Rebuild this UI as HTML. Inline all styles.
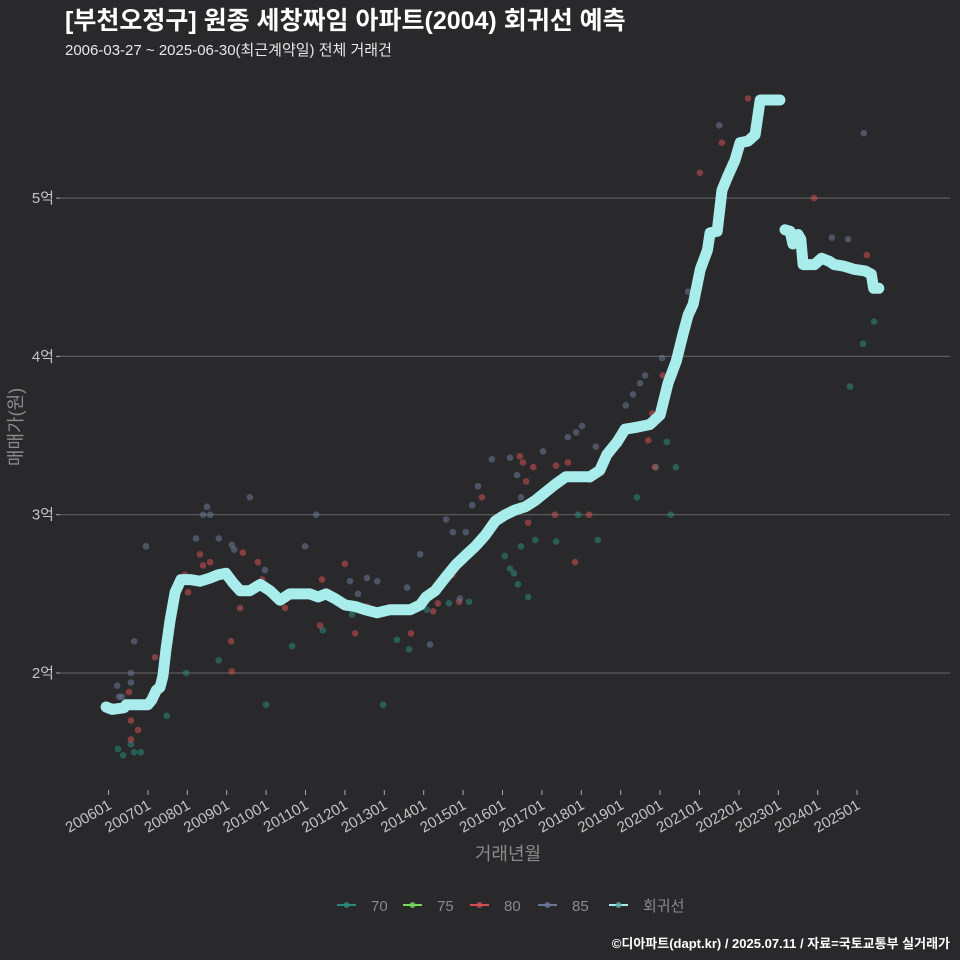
<!DOCTYPE html>
<html><head><meta charset="utf-8">
<style>
html,body{margin:0;padding:0;background:#29292b;}
svg{display:block;font-family:"Liberation Sans","Noto Sans CJK KR",sans-serif;}
</style></head>
<body>
<svg id="chart" width="960" height="960" viewBox="0 0 960 960" xmlns="http://www.w3.org/2000/svg">
<rect width="960" height="960" fill="#29292b"/>
<text x="65" y="29" font-size="25" font-weight="bold" fill="#ffffff">[부천오정구] 원종 세창짜임 아파트(2004) 회귀선 예측</text>
<text x="65" y="55" font-size="15" fill="#e8e8e8">2006-03-27 ~ 2025-06-30(최근계약일) 전체 거래건</text>
<g id="grid"></g>
<g id="dots"></g>
<g id="line"></g>
<g id="axes"></g>
<text x="508" y="860" font-size="18" fill="#8a8a8a" text-anchor="middle">거래년월</text>
<text transform="translate(22,427) rotate(-90)" font-size="18" fill="#8a8a8a" text-anchor="middle">매매가(원)</text>
<g id="legend"></g>
<text x="950" y="948" font-size="13" font-weight="bold" fill="#ffffff" text-anchor="end">©디아파트(dapt.kr) / 2025.07.11 / 자료=국토교통부 실거래가</text>
</svg>
<script>
const xTickYears=[2006,2007,2008,2009,2010,2011,2012,2013,2014,2015,2016,2017,2018,2019,2020,2021,2022,2023,2024,2025];
const xTickLabels=["200601","200701","200801","200901","201001","201101","201201","201301","201401","201501","201601","201701","201801","201901","202001","202101","202201","202301","202401","202501"];
const yTickValues=[2,3,4,5];
const yTickLabels=["2억","3억","4억","5억"];
const seriesNames=["70","75","80","85","회귀선"];
const seriesColors=["#2a8a7c","#7ad65a","#d05050","#6a7898","#a8ecec"];
const s70=[[2006.24,1.52],[2006.37,1.48],[2006.57,1.55],[2006.65,1.50],[2006.82,1.50],[2007.48,1.73],[2007.97,2.00],[2008.80,2.08],[2010.00,1.80],[2010.66,2.17],[2011.44,2.27],[2012.18,2.37],[2012.97,1.80],[2013.32,2.21],[2013.63,2.15],[2014.08,2.40],[2014.64,2.44],[2015.15,2.45],[2016.06,2.74],[2016.19,2.66],[2016.29,2.63],[2016.39,2.56],[2016.47,2.80],[2016.65,2.48],[2016.83,2.84],[2017.36,2.83],[2017.92,3.00],[2018.42,2.84],[2019.41,3.11],[2019.89,3.30],[2020.27,3.00],[2020.17,3.46],[2020.40,3.30],[2024.82,3.81],[2025.15,4.08],[2025.43,4.22]];
const s80=[[2006.52,1.88],[2006.57,1.58],[2006.75,1.64],[2006.57,1.70],[2007.18,2.10],[2007.94,2.62],[2008.02,2.51],[2008.32,2.75],[2008.40,2.68],[2008.58,2.70],[2009.11,2.20],[2009.13,2.01],[2009.34,2.41],[2009.41,2.76],[2009.79,2.70],[2009.90,2.59],[2010.48,2.41],[2011.37,2.30],[2011.42,2.59],[2012.00,2.69],[2012.26,2.25],[2012.56,2.42],[2013.68,2.25],[2014.24,2.39],[2014.36,2.44],[2014.72,2.62],[2014.90,2.45],[2015.48,3.11],[2016.44,3.37],[2016.52,3.33],[2016.60,3.21],[2016.65,2.95],[2016.78,3.30],[2017.33,3.00],[2017.36,3.31],[2017.66,3.33],[2017.84,2.70],[2017.92,3.24],[2018.20,3.00],[2018.73,3.38],[2019.70,3.47],[2019.80,3.64],[2019.87,3.30],[2020.07,3.88],[2021.01,5.16],[2021.57,5.35],[2022.23,5.63],[2023.91,5.00],[2025.25,4.64]];
const s85=[[2006.22,1.92],[2006.27,1.85],[2006.34,1.85],[2006.57,2.00],[2006.57,1.94],[2006.65,2.20],[2006.95,2.80],[2008.40,3.00],[2008.50,3.05],[2008.58,3.00],[2008.22,2.85],[2008.80,2.85],[2009.19,2.78],[2009.13,2.81],[2009.59,3.11],[2009.97,2.65],[2010.99,2.80],[2011.27,3.00],[2012.13,2.58],[2012.56,2.60],[2012.82,2.58],[2012.33,2.50],[2013.58,2.54],[2013.91,2.75],[2014.16,2.18],[2014.57,2.97],[2014.74,2.89],[2014.92,2.47],[2015.07,2.89],[2015.23,3.06],[2015.38,3.18],[2015.73,3.35],[2016.19,3.36],[2016.37,3.25],[2016.47,3.11],[2017.03,3.40],[2017.66,3.49],[2017.87,3.52],[2018.02,3.56],[2018.22,3.22],[2018.37,3.43],[2019.13,3.69],[2019.31,3.76],[2019.49,3.83],[2019.62,3.88],[2019.80,3.57],[2020.05,3.99],[2020.71,4.41],[2021.50,5.46],[2025.17,5.41],[2024.36,4.75],[2024.77,4.74]];
const trendA=[[2005.94,1.785],[2006.09,1.77],[2006.39,1.78],[2006.45,1.80],[2007.0,1.80],[2007.10,1.83],[2007.21,1.89],[2007.31,1.91],[2007.38,1.98],[2007.46,2.15],[2007.56,2.33],[2007.69,2.51],[2007.84,2.59],[2008.07,2.59],[2008.32,2.58],[2008.58,2.60],[2008.78,2.62],[2008.98,2.63],[2009.16,2.57],[2009.34,2.52],[2009.59,2.52],[2009.85,2.56],[2010.10,2.52],[2010.35,2.46],[2010.60,2.50],[2011.11,2.50],[2011.32,2.48],[2011.52,2.50],[2011.75,2.47],[2012.00,2.43],[2012.26,2.42],[2012.51,2.40],[2012.82,2.38],[2013.15,2.40],[2013.66,2.40],[2013.91,2.43],[2014.06,2.48],[2014.29,2.52],[2014.54,2.60],[2014.80,2.68],[2015.05,2.74],[2015.31,2.80],[2015.56,2.87],[2015.82,2.96],[2016.07,3.00],[2016.32,3.03],[2016.58,3.05],[2016.83,3.09],[2017.08,3.14],[2017.33,3.19],[2017.61,3.24],[2017.89,3.24],[2018.22,3.24],[2018.47,3.28],[2018.65,3.38],[2018.91,3.46],[2019.11,3.54],[2019.36,3.55],[2019.74,3.57],[2020.00,3.63],[2020.20,3.83],[2020.41,3.97],[2020.58,4.14],[2020.71,4.26],[2020.84,4.33],[2021.02,4.55],[2021.20,4.67],[2021.27,4.78],[2021.45,4.79],[2021.57,5.05],[2021.72,5.14],[2021.90,5.24],[2022.03,5.35],[2022.23,5.36],[2022.41,5.40],[2022.54,5.62],[2023.04,5.62]];
const trendB=[[2023.17,4.80],[2023.30,4.79],[2023.37,4.71],[2023.42,4.75],[2023.50,4.77],[2023.57,4.74],[2023.63,4.58],[2023.92,4.58],[2024.10,4.62],[2024.30,4.60],[2024.42,4.58],[2024.67,4.57],[2024.92,4.55],[2025.20,4.54],[2025.36,4.52],[2025.42,4.43],[2025.55,4.43]];

const X0=108.5, XS=39.4, Y0=673, YS=158.3;
function xs(t){return X0+(t-2006)*XS;}
function ys(v){return Y0-(v-2)*YS;}
const NS="http://www.w3.org/2000/svg";
function mk(tag,attrs,parent){const e=document.createElementNS(NS,tag);for(const k in attrs)e.setAttribute(k,attrs[k]);parent.appendChild(e);return e;}
const grid=document.getElementById('grid'),axes=document.getElementById('axes');
yTickValues.forEach((v,i)=>{
  const l=mk('line',{x1:60,x2:950,y1:ys(v),y2:ys(v),stroke:'#5c5c5e','stroke-width':1.2},grid);
  
  
  const tk=mk('line',{x1:56,x2:60,y1:ys(v),y2:ys(v),stroke:'#aaa'},axes);
  
  
  const t=mk('text',{x:54,y:ys(v)+5,'font-size':15,fill:'#c4c4c4','text-anchor':'end'},axes);
  t.textContent=yTickLabels[i];
  
  
});
xTickYears.forEach((yr,i)=>{
  const x=xs(yr);
  const tk=mk('line',{x1:x,x2:x,y1:790,y2:795,stroke:'#aaa'},axes);
  
  
  const t=mk('text',{transform:`translate(${x+4},${808}) rotate(-30)`,'font-size':15,fill:'#c4c4c4','text-anchor':'end'},axes);
  t.textContent=xTickLabels[i];
  
  
});
const dots=document.getElementById('dots');
[[s70,0],[s80,2],[s85,3]].forEach(([arr,ci])=>{
  arr.forEach(p=>{
    const c=mk('circle',{cx:xs(p[0]),cy:ys(p[1]),r:3.3,fill:seriesColors[ci],'fill-opacity':0.55},dots);
    
    
  });
});
const lineG=document.getElementById('line');
[trendA,trendB].forEach((arr,k)=>{
  const d=arr.map((p,i)=>(i?'L':'M')+xs(p[0]).toFixed(1)+','+ys(p[1]).toFixed(1)).join(' ');
  const pth=mk('path',{d:d,fill:'none',stroke:seriesColors[4],'stroke-width':11,'stroke-linejoin':'round','stroke-linecap':'round'},lineG);
  
  
});
const leg=document.getElementById('legend');
const legX=[337,403,470,538,609];
seriesNames.forEach((n,i)=>{
  const g=mk('g',{},leg);
  
  
  mk('line',{x1:legX[i],x2:legX[i]+19,y1:905,y2:905,stroke:seriesColors[i],'stroke-width':2},g);
  mk('circle',{cx:legX[i]+9.5,cy:905,r:3,fill:i==4?'#5aa8a0':seriesColors[i],'fill-opacity':0.8},g);
  const t=mk('text',{x:legX[i]+34,y:911,'font-size':15,fill:'#8a8a8a'},g);
  t.textContent=n;
});
</script>
</body></html>
